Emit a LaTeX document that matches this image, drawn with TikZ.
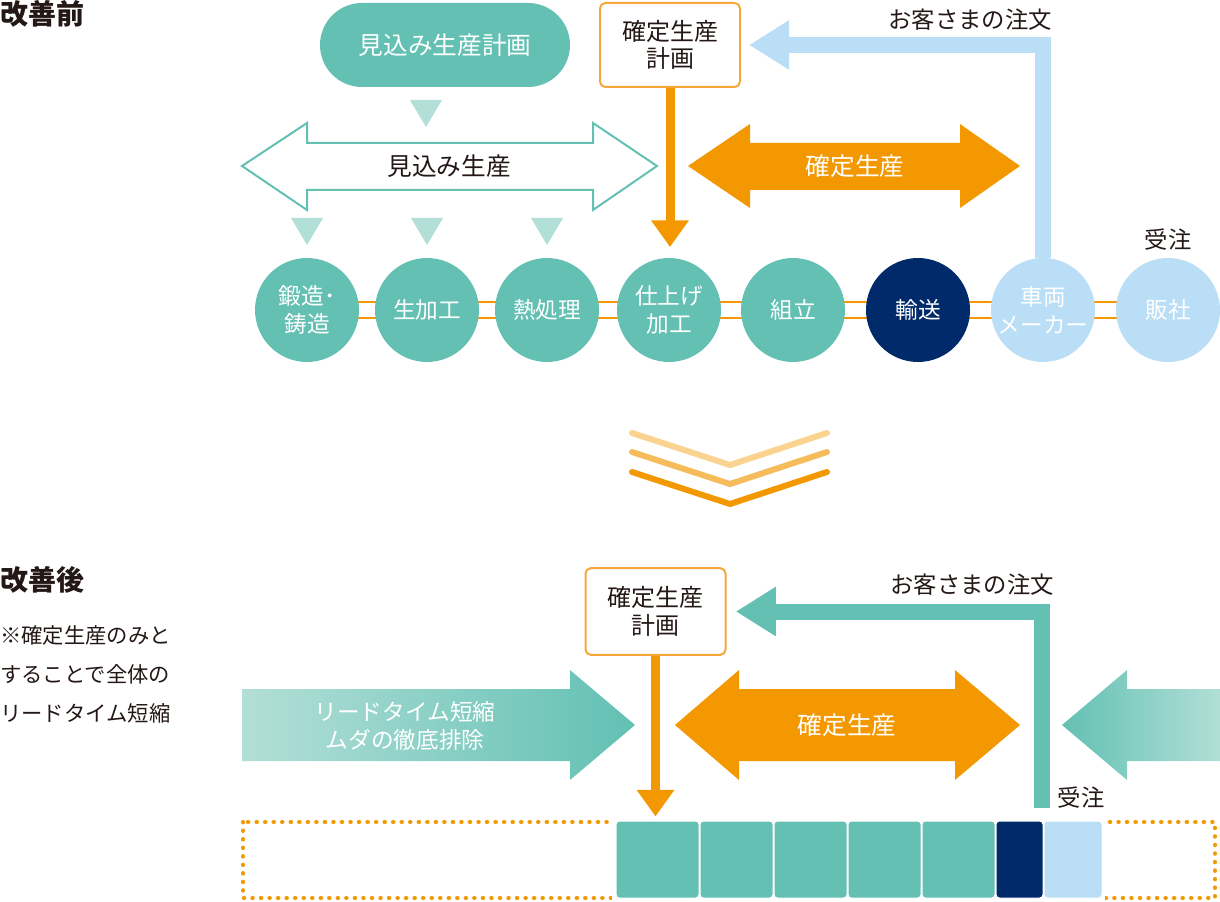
\documentclass[tikz,border=0pt]{standalone}
\usepackage{fontspec}
\setmainfont{Noto Sans CJK JP}
\usetikzlibrary{arrows.meta,backgrounds}
\definecolor{mint}{HTML}{63C0B3}
\definecolor{mintpale}{HTML}{B2DFD7}
\definecolor{navyblue}{HTML}{002A6A}
\definecolor{skyblue}{HTML}{BADEF5}
\definecolor{amber}{HTML}{F39800}
\definecolor{amberbox}{HTML}{F5A73A}
\definecolor{chevA}{HTML}{FAD390}
\definecolor{chevB}{HTML}{F6BB5B}
\definecolor{ink}{HTML}{231815}
\tikzstyle{stage}=[circle, fill=mint, minimum size=78pt, inner sep=0pt, text=white, align=center, font=\fontsize{17}{21}\selectfont]
\newcommand{\stage}{\node[stage]}
\tikzstyle{planbox}=[draw=amberbox, line width=1.5pt, rounded corners=4pt, fill=white, text=ink, align=center, minimum width=105pt, minimum height=63pt, font=\fontsize{18}{20.5}\selectfont]
\tikzstyle{caption}=[text=ink, inner sep=0pt, font=\fontsize{17.5}{21}\selectfont]
\tikzstyle{heading}=[text=ink, inner sep=0pt, anchor=west, font=\fontsize{21}{24}\selectfont\bfseries]
\tikzstyle{note}=[text=ink, inner sep=0pt, anchor=west, font=\fontsize{16}{20}\selectfont]
\tikzstyle{inside}=[text=white, align=center, inner sep=0pt, font=\fontsize{18.5}{21}\selectfont]
\tikzstyle{rail}=[draw=amber, line width=2pt]
\tikzstyle{cue}=[fill=mintpale]
\tikzstyle{plandrop}=[draw=amber, line width=6.75pt, -{Triangle[width=27pt,length=20pt]}]
\tikzstyle{orderbar}=[line width=12pt, -{Triangle[width=35pt,length=30pt]}]
\tikzstyle{chev}=[line width=4.5pt, line cap=round, line join=round]
\tikzstyle{cell}=[rounded corners=2.5pt, inner sep=0pt, minimum height=57.75pt, draw=white, line width=0.75pt]
\tikzstyle{dotrim}=[draw=amber, line width=3.1pt, line cap=round, dash pattern=on 0.3pt off 6.1pt]

\begin{document}
\begin{tikzpicture}[x=0.75pt, y=-0.75pt]
\useasboundingbox (0,0) rectangle (1220,902);
% before
\node[heading] (before) at (0,14) {改善前};
\node[rounded corners=31.5pt, fill=mint, minimum width=187.5pt, minimum height=63pt, inside] (forecast) at (445,45) {見込み生産計画};
\foreach \x/\y in {426/100, 307/218, 427/218, 547/218}
	\fill[cue] (\x-16,\y) -- (\x+16,\y) -- (\x,\y+27) -- cycle;
\draw[draw=mint, line width=1.5pt, fill=white] (242,166) -- (307,123) -- (307,143) -- (593,143) -- (593,123) -- (657,166) -- (593,210) -- (593,190) -- (307,190) -- (307,210) -- cycle;
\node[caption, font=\fontsize{18.5}{21}\selectfont] (fcprod) at (449,166) {見込み生産};
\node[planbox] (plan1) at (670,45) {確定生産\\計画};
\fill[amber] (688,166) -- (750,124) -- (750,143) -- (960,143) -- (960,124) -- (1020,166) -- (960,208) -- (960,190) -- (750,190) -- (750,208) -- cycle;
\node[inside] (firm1) at (855,166) {確定生産};
\node[caption] (order1) at (970,20) {お客さまの注文};
\node[caption] (recv1) at (1168,240) {受注};

\foreach \n/\x/\t in {forge/307/鍛造･\\鋳造, rough/427/生加工, heat/547/熱処理, finish/669/仕上げ\\加工, assy/793/組立}{
	\stage (\n) at (\x,310) {\t};
	}
\stage (ship) at (918,310) [fill=navyblue] {輸送};
\stage (maker) at (1043,310) [fill=skyblue] {車両\\メーカー};
\stage (dealer) at (1168,310) [fill=skyblue] {販社};
\begin{scope}[on background layer]
\draw[rail] ([yshift=6pt]forge.center) -- ([yshift=6pt]dealer.center);
\draw[rail] ([yshift=-6pt]forge.center) -- ([yshift=-6pt]dealer.center);
\end{scope}
\draw[plandrop, shorten >=8pt] (plan1.south) -- (plan1.south |- finish.north);
\draw[orderbar, draw=skyblue, shorten >=6pt] (maker.north) |- (plan1.east);

% chevrons
\foreach \dy/\c in {0/chevA, 19/chevB, 39/amber}
	\draw[chev, draw=\c] (632,433+\dy) -- (730,465+\dy) -- (827,433+\dy);

% after
\node[heading] (after) at (0,580) {改善後};
\foreach \t [count=\k] in {※確定生産のみと, することで全体の, リードタイム短縮}
	\node[note] (note\k) at (0,596+39*\k) {\t};
\node[planbox, minimum height=65pt] (plan2) at (655.5,611.5) {確定生産\\計画};
\shade[left color=mintpale, right color=mint] (242,689) -- (570,689) -- (570,670) -- (635,725) -- (570,780) -- (570,761) -- (242,761) -- cycle;
\node[inside, font=\fontsize{17}{21}\selectfont] (lean) at (405,726) {リードタイム短縮\\ムダの徹底排除};
\fill[amber] (675,725) -- (739,670) -- (739,689) -- (955,689) -- (955,670) -- (1020,725) -- (955,780) -- (955,761) -- (739,761) -- (739,780) -- cycle;
\node[inside] (firm2) at (847,725) {確定生産};
\shade[left color=mint, right color=mintpale] (1220,689) -- (1127,689) -- (1127,670) -- (1062,725) -- (1127,780) -- (1127,761) -- (1220,761) -- cycle;
\node[caption] (order2) at (972,585) {お客さまの注文};
\node[caption] (recv2) at (1081,798) {受注};
\coordinate (foot) at (1042,808);
\draw[orderbar, draw=mint, shorten >=7pt] (foot) |- (plan2.east);

\draw[dotrim] (243,822) rectangle (1215,898);
\fill[white] (612,814) rectangle (1105,902);
\foreach \a/\b/\c [count=\k] in {616/699/mint, 700/773/mint, 774/847/mint, 848/921/mint, 922/995/mint, 996/1043/navyblue, 1044/1102/skyblue}
	\node[cell, fill=\c, minimum width={(\b-\a)*0.75pt}] (cell\k) at ({(\a+\b)/2},859.5) {};
\draw[plandrop, shorten >=3pt] (plan2.south) -- (plan2.south |- cell1.north);
\end{tikzpicture}
\end{document}
